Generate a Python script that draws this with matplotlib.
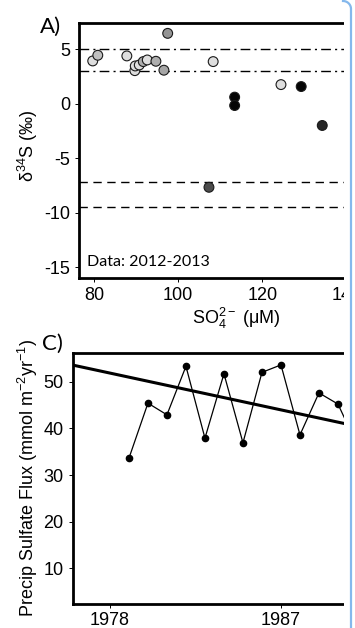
import numpy as np
import matplotlib
matplotlib.use("Agg")
import matplotlib.pyplot as plt
from matplotlib.lines import Line2D
from matplotlib.patches import Rectangle

plt.rcParams['font.family'] = ['Liberation Sans', 'DejaVu Sans']
plt.rcParams['mathtext.fontset'] = 'custom'
plt.rcParams['mathtext.rm'] = 'Liberation Sans'
plt.rcParams['mathtext.it'] = 'Liberation Sans:italic'

# panel A: sulfate concentration vs d34S (2012-2013)
so4 = [79.7, 80.9, 87.8, 89.7, 89.8, 90.75, 91.7, 92.65, 94.7, 96.6, 97.5,
       108.3, 107.3, 113.4, 113.4, 124.4, 129.2, 134.2]
d34s = [3.93, 4.45, 4.39, 3.04, 3.47, 3.56, 3.87, 4.02, 3.90, 3.08, 6.46,
        3.87, -7.66, 0.61, -0.16, 1.76, 1.58, -1.99]
# grey level of the fill (1 = white, 0 = black)
shade = [0.87, 0.75, 0.87, 0.87, 0.87, 0.87, 0.68, 0.87, 0.68, 0.65, 0.58,
         0.87, 0.30, 0.02, 0.02, 0.87, 0.02, 0.15]
dashdot_levels = [5.0, 3.0]
dashed_levels = [-7.2, -9.45]

# panel C: precipitation sulfate flux by year
years = [1979, 1980, 1981, 1982, 1983, 1984, 1985, 1986, 1987, 1988, 1989, 1990, 1991]
flux = [33.6, 45.4, 42.9, 53.3, 37.9, 51.7, 36.9, 52.0, 53.6, 38.6, 47.6, 45.2, 36.5]
trend_years = [1976, 1993]
trend_flux = [53.6, 38.7]

fig = plt.figure(figsize=(3.55, 6.28), dpi=100)
W, H = 355.0, 628.0

def px_axes(left, top, right, bottom):
    return fig.add_axes([left / W, 1 - bottom / H, (right - left) / W, (bottom - top) / H])

tick_kw = dict(direction='out', length=3, width=0.7, pad=3.5, labelsize=13, colors='black')

# ---- A ----
ax = px_axes(79, 23, 393, 278)
for lv in dashdot_levels:
    ax.axhline(lv, color='black', lw=1.0, ls=(0, (7, 3, 1.5, 3)), zorder=1)
for lv in dashed_levels:
    ax.axhline(lv, color='black', lw=1.0, ls=(0, (6, 4)), zorder=1)
ax.scatter(so4, d34s, c=shade, cmap='gray', vmin=0, vmax=1, s=50,
           edgecolors='#1a1a1a', linewidths=0.8, zorder=3)
ax.set_xlim(76.44, 151.0)
ax.set_ylim(-15.98, 7.41)
ax.set_xticks([80, 100, 120, 140])
ax.set_yticks([5, 0, -5, -10, -15])
ax.set_yticklabels(['5', '0', '-5', '-10', '-15'])
ax.tick_params(**tick_kw)
for s in ax.spines.values():
    s.set_linewidth(2.0)
ax.set_xlabel('SO$_4^{2-}$ (μM)', fontsize=13, labelpad=1)
ax.text(8 / 314, 8 / 255 + 0.005, 'Data: 2012-2013', transform=ax.transAxes,
        family=['Lato', 'DejaVu Sans'], fontsize=11.5, ha='left', va='bottom')
fig.text(28 / W, 1 - 146 / H, 'δ$^{34}$S (‰)', rotation=90, ha='center', va='center',
         fontsize=13)
fig.text(40 / W, 1 - 33 / H, 'A)', family=['Lato', 'DejaVu Sans'], fontsize=16,
         ha='left', va='baseline')

# ---- C ----
bx = px_axes(72.7, 353, 387, 604)
bx.plot(trend_years, trend_flux, color='black', lw=2.2, zorder=2)
bx.plot(years, flux, color='black', lw=0.9, marker='o', markersize=4.5, zorder=3)
bx.set_xlim(1976.04, 1992.58)
bx.set_ylim(2.35, 56.15)
bx.set_xticks([1978, 1987])
bx.set_yticks([10, 20, 30, 40, 50])
bx.tick_params(**tick_kw)
bx.tick_params(axis='x', pad=2.5)
for s in bx.spines.values():
    s.set_linewidth(2.0)
fig.text(28 / W, 1 - 478 / H, 'Precip Sulfate Flux (mmol m$^{-2}$yr$^{-1}$)', rotation=90,
         ha='center', va='center', fontsize=13)
fig.text(42 / W, 1 - 350 / H, 'C)', family=['Lato', 'DejaVu Sans'], fontsize=16,
         ha='left', va='baseline')

# crop edge of the source figure
fig.add_artist(Rectangle((343.5 / W, 0), 1, 1, transform=fig.transFigure,
                         facecolor='white', edgecolor='none', zorder=10))
t = np.linspace(0, np.pi / 2, 20)
r = 8.0
arc_x = 343 + r * np.sin(t)
arc_y = 1 + r - r * np.cos(t)
path_x = list(arc_x / W) + [351 / W]
path_y = list(1 - arc_y / H) + [0]
fig.add_artist(Line2D(path_x, path_y, transform=fig.transFigure, color='#85b8ec',
                      lw=1.6, zorder=11))

fig.savefig('out.png', dpi=100)
